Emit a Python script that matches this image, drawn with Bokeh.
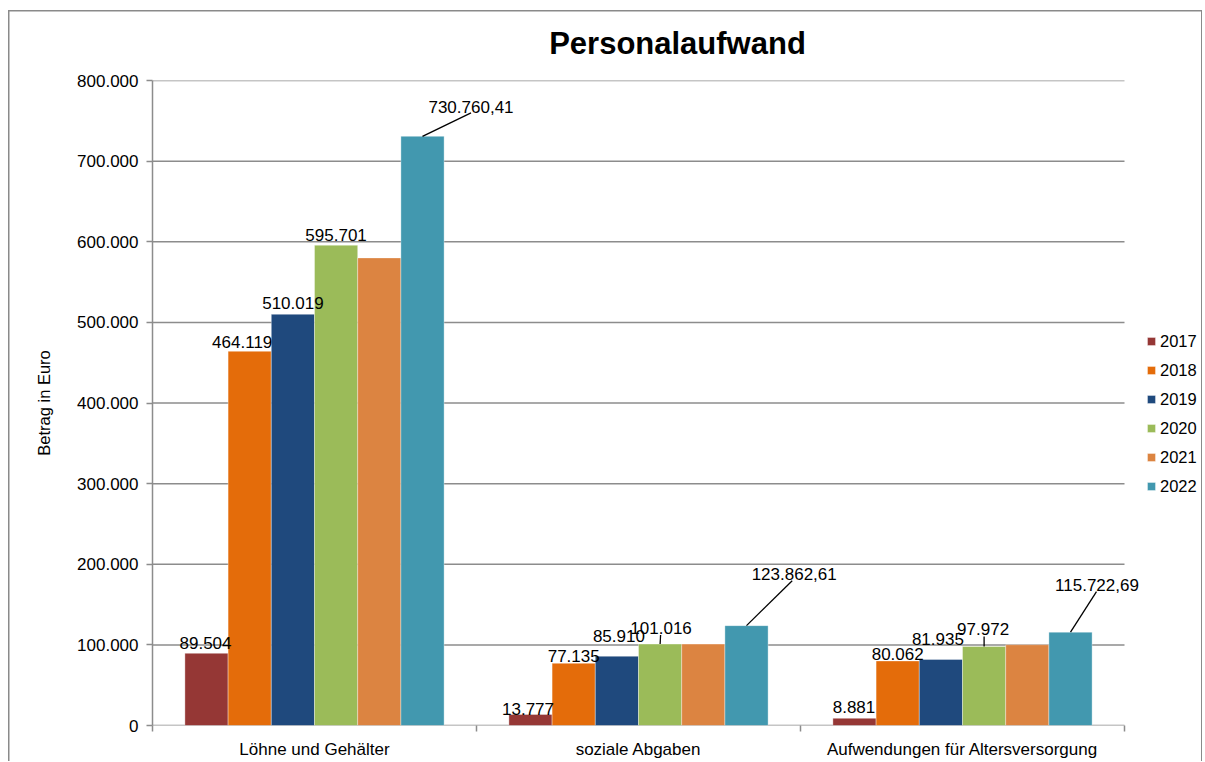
from bokeh.plotting import figure
from bokeh.models import Range1d, FixedTicker, Legend, LegendItem, ColumnDataSource
from bokeh.core.properties import value
from bokeh.embed import file_html
from bokeh.resources import INLINE

# ---------------- data ----------------
categories = ["Löhne und Gehälter", "soziale Abgaben", "Aufwendungen für Altersversorgung"]
years = ["2017", "2018", "2019", "2020", "2021", "2022"]
v2017 = [89504, 13777, 8881]
v2018 = [464119, 77135, 80062]
v2019 = [510019, 85910, 81935]
v2020 = [595701, 101016, 97972]
v2021 = [580000, 101000, 100200]
v2022 = [730760.41, 123862.61, 115722.69]
series = [v2017, v2018, v2019, v2020, v2021, v2022]
label_decimals = [0, 0, 0, 0, None, 2]   # None: series shown without labels
y_ticks = [0, 100000, 200000, 300000, 400000, 500000, 600000, 700000, 800000]

# ---------------- style ----------------
colors = ["#953735", "#E46C0A", "#1F497D", "#9BBB59", "#DC8441", "#4298AF"]
FONT = "Liberation Sans"
GRID = "#8c8c8c"
BORDER = "#8a8a8a"
FIG_W, FIG_H = 1194, 757
MB_L, MB_R, MB_T, MB_B = 144, 0, 76, 34
FRAME_W = FIG_W - MB_L - MB_R
FRAME_H = FIG_H - MB_T - MB_B
N_CAT = len(categories)
px_x = 324.0                      # pixels per category
X_END = FRAME_W / px_x            # room to the right of the last category for the legend
Y_MAX = 800000
px_y = FRAME_H / Y_MAX

# label pixel offsets relative to the bar top centre (series, category): (dx, dy)
label_offsets = {
    (0, 0): (-1, -10), (1, 0): (-7.5, -9.5), (2, 0): (0, -11), (3, 0): (0, -10.5), (5, 0): (48.5, -29.5),
    (0, 1): (-2.5, -5), (1, 1): (0, -7), (2, 1): (2, -20), (3, 1): (1, -16.5), (5, 1): (47.7, -51.8),
    (0, 2): (-0.5, -11), (1, 2): (0, -6.7), (2, 2): (-3, -20), (3, 2): (-1, -18), (5, 2): (26.5, -46.7),
}
# leader lines: (series, category): (dx, dy) end point in pixels from bar top centre
leaders = {
    (5, 0): (48.5, -23.5), (5, 1): (45.7, -45), (5, 2): (26, -40.7),
    (3, 1): (0.5, -9), (3, 2): (0, -10),
}

group_pad = 0.1
bar_w = (1 - 2 * group_pad) / len(years)


def de_format(v, d):
    s = f"{v:,.{d}f}"
    return s.replace(",", "#").replace(".", ",").replace("#", ".")


frame_css = (f"linear-gradient({BORDER},{BORDER}) no-repeat 0 6px / 100% 1.5px, "
             f"linear-gradient({BORDER},{BORDER}) no-repeat 0 6px / 1.5px 100%, "
             f"linear-gradient({BORDER},{BORDER}) no-repeat 100% 6px / 1.5px 100%")

p = figure(width=FIG_W, height=FIG_H, x_range=Range1d(0, X_END), y_range=Range1d(0, Y_MAX),
           output_backend="svg", toolbar_location=None,
           min_border_left=MB_L, min_border_right=MB_R, min_border_top=MB_T, min_border_bottom=MB_B,
           styles={"margin-left": "8px", "margin-top": "4px", "background": frame_css})
p.outline_line_color = None
p.background_fill_alpha = 0
p.border_fill_alpha = 0

# title
p.title.text = "Personalaufwand"
p.title.align = "center"
p.title.text_font = FONT
p.title.text_font_size = "31px"
p.title.text_font_style = "bold"
p.title.text_color = "black"
p.title.standoff = 39

# horizontal grid lines (only across the category area)
p.segment(x0=[0] * len(y_ticks), x1=[N_CAT] * len(y_ticks), y0=y_ticks, y1=y_ticks,
          line_color=GRID, line_width=1.5)

# bars
renderers = []
for i, vals in enumerate(series):
    xs = [c + group_pad + bar_w * (i + 0.5) for c in range(N_CAT)]
    src = ColumnDataSource(dict(x=xs, top=vals))
    r = p.vbar(x="x", top="top", width=bar_w, bottom=0, source=src,
               fill_color=colors[i], line_color="white", line_alpha=0.45, line_width=0.8)
    renderers.append(r)

# data labels
lx, ly, lt, ldx, ldy = [], [], [], [], []
for i, vals in enumerate(series):
    if label_decimals[i] is None:
        continue
    for c, v in enumerate(vals):
        dx, dy = label_offsets.get((i, c), (0, -8))
        lx.append(c + group_pad + bar_w * (i + 0.5))
        ly.append(v)
        lt.append(de_format(v, label_decimals[i]))
        ldx.append(dx)
        ldy.append(dy)
p.text(x="x", y="y", text="t", x_offset="dx", y_offset="dy",
       source=ColumnDataSource(dict(x=lx, y=ly, t=lt, dx=ldx, dy=ldy)),
       text_align="center", text_baseline="alphabetic", text_font=value(FONT),
       text_font_size="17px", text_color="black")

# leader lines
x0, y0, x1, y1 = [], [], [], []
for (i, c), (dx, dy) in leaders.items():
    xc = c + group_pad + bar_w * (i + 0.5)
    v = series[i][c]
    x0.append(xc)
    y0.append(v)
    x1.append(xc + dx / px_x)
    y1.append(v - dy / px_y)
p.segment(x0="x0", y0="y0", x1="x1", y1="y1",
          source=ColumnDataSource(dict(x0=x0, y0=y0, x1=x1, y1=y1)),
          line_color="black", line_width=1.3)

# axes
xa = p.xaxis[0]
xa.ticker = FixedTicker(ticks=[c + 0.5 for c in range(N_CAT)],
                        minor_ticks=list(range(N_CAT + 1)))
xa.major_label_overrides = {c + 0.5: name for c, name in enumerate(categories)}
xa.major_tick_out = 0
xa.major_tick_in = 0
xa.minor_tick_out = 6
xa.minor_tick_in = 0
xa.minor_tick_line_color = GRID
xa.minor_tick_line_width = 1.5
xa.axis_line_color = None
xa.major_label_text_font = FONT
xa.major_label_text_font_size = "17px"
xa.major_label_text_color = "black"
xa.major_label_standoff = 8

ya = p.yaxis[0]
ya.ticker = FixedTicker(ticks=y_ticks, minor_ticks=[])
ya.major_label_overrides = {t: de_format(t, 0) for t in y_ticks}
ya.major_tick_out = 6
ya.major_tick_in = 0
ya.major_tick_line_color = GRID
ya.major_tick_line_width = 1.5
ya.minor_tick_line_color = None
ya.axis_line_color = GRID
ya.axis_line_width = 1.5
ya.major_label_text_font = FONT
ya.major_label_text_font_size = "17px"
ya.major_label_text_color = "black"
ya.major_label_standoff = 8
ya.axis_label = "Betrag in Euro"
ya.axis_label_text_font = FONT
ya.axis_label_text_font_size = "16.5px"
ya.axis_label_text_font_style = "normal"
ya.axis_label_text_color = "black"
ya.axis_label_standoff = 21

p.xgrid.grid_line_color = None
p.ygrid.grid_line_color = None

# legend (inside the widened frame, right of the categories)
legend = Legend(items=[LegendItem(label=y, renderers=[r]) for y, r in zip(years, renderers)],
                location=(994, 229), orientation="vertical",
                glyph_width=10, glyph_height=10, label_standoff=4,
                label_height=20, spacing=9, padding=0, margin=0,
                border_line_color=None, background_fill_alpha=0,
                label_text_font=FONT, label_text_font_size="16.5px", label_text_color="black")
p.add_layout(legend, "center")

open("out.html", "w").write(file_html(p, INLINE))
